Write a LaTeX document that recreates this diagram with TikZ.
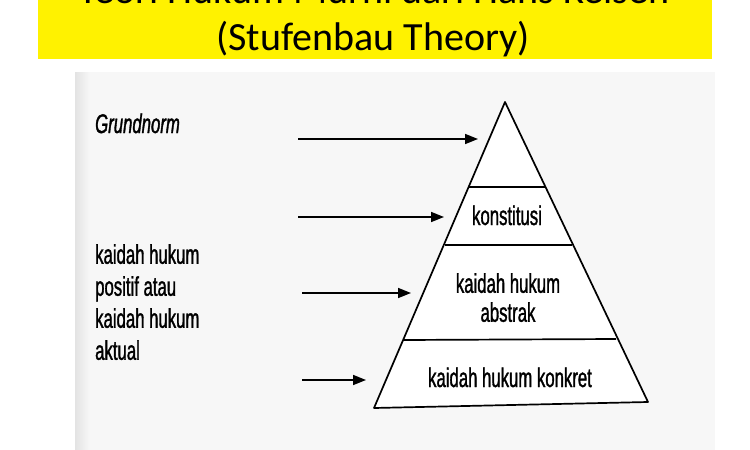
\documentclass[tikz,border=0pt]{standalone}
\usepackage{fontspec}
\usetikzlibrary{arrows.meta}
\newfontfamily\titlefont{Carlito}
\newfontfamily\labelfont[FakeStretch=0.62, FakeBold=1.2]{Liberation Sans}
\begin{document}
\begin{tikzpicture}[x=1pt, y=-1pt,
	lbl/.style={font=\labelfont\fontsize{27}{32}\selectfont, inner sep=0pt},
	pil/.style={line width=1.7pt, -{Triangle[length=13pt, width=10pt]}}]
	\useasboundingbox (0,0) rectangle (750,450);
	% BANNER
	\fill[yellow] (38,0) rectangle (712,59);
	\begin{scope}
		\clip (0,0) rectangle (750,59);
		\node (judul1) at (374,3) [anchor=base, inner sep=0pt, font=\titlefont\fontsize{40}{48}\selectfont] {Teori Hukum Murni dari Hans Kelsen};
		\node (judul2) at (373,50) [anchor=base, inner sep=0pt, font=\titlefont\fontsize{40}{48}\selectfont] {(Stufenbau Theory)};
	\end{scope}
	% PAGE
	\fill[gray!6] (75,72) rectangle (715,450);
	\shade[left color=gray!22, right color=gray!6] (75,72) rectangle (90,450);
	% PYRAMID
	\coordinate (puncak) at (505,102);
	\coordinate (kiri) at (374,408);
	\coordinate (kanan) at (648,402);
	\draw[line width=1.7pt, line join=round, fill=white] (puncak) -- (kiri) -- (kanan) -- cycle;
	\draw[line width=1.7pt] (469,187) -- (545,187);
	\draw[line width=1.7pt] (445,245) -- (572,245);
	\draw[line width=1.7pt] (403,340) -- (616,339);
	% TIER TEXTS
	\node (konstitusi) at (507,225) [lbl, anchor=base] {konstitusi};
	\node (abstrak) at (508,273) [lbl, anchor=north, align=center, font=\labelfont\fontsize{27}{29}\selectfont] {kaidah hukum\\abstrak};
	\node (konkret) at (510,387) [lbl, anchor=base] {kaidah hukum konkret};
	% LEFT TEXTS
	\node (grundnorm) at (95,133) [lbl, anchor=base west, font=\labelfont\itshape\fontsize{27}{32}\selectfont] {Grundnorm};
	\node (positif) at (95,244) [lbl, anchor=north west, align=left] {kaidah hukum\\positif atau\\kaidah hukum\\aktual};
	% ARROWS
	\coordinate (a1) at (298,139); \coordinate (b1) at (478,139);
	\coordinate (a2) at (298,217); \coordinate (b2) at (444,217);
	\coordinate (a3) at (302,293); \coordinate (b3) at (411,293);
	\coordinate (a4) at (302,380); \coordinate (b4) at (366,380);
	\draw[pil] (a1) -- (b1);
	\draw[pil] (a2) -- (b2);
	\draw[pil] (a3) -- (b3);
	\draw[pil] (a4) -- (b4);
\end{tikzpicture}
\end{document}
